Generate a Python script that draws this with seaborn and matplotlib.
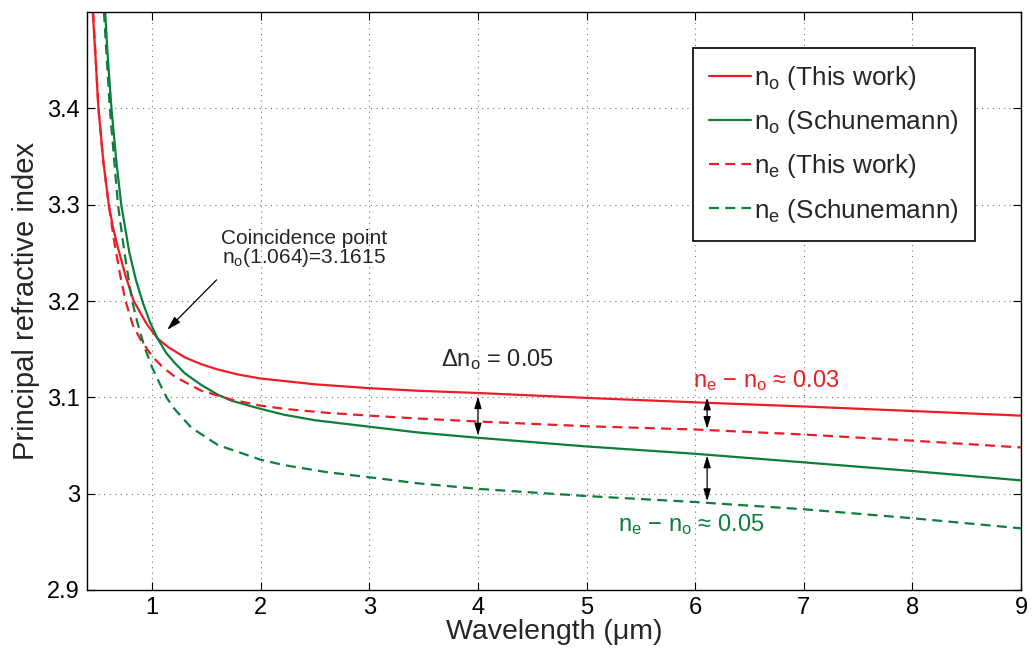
import numpy as np
import pandas as pd
import matplotlib
matplotlib.use('Agg')
import matplotlib.pyplot as plt
import seaborn as sns

# values (wavelength in um, refractive index)
wl_no_this = [0.453, 0.48, 0.505, 0.55, 0.60, 0.64, 0.683, 0.75, 0.83, 0.95, 1.05, 1.15, 1.3,
              1.45, 1.6, 1.8, 2.0, 2.5, 3.0, 3.45, 4.0, 5.0, 6.0, 7.0, 8.0, 9.0]
n_no_this = [3.50, 3.45, 3.40, 3.345, 3.30, 3.276, 3.256, 3.228, 3.20, 3.176, 3.161, 3.152, 3.1415,
             3.1345, 3.129, 3.1235, 3.1195, 3.1135, 3.1095, 3.1068, 3.1045, 3.0994, 3.0948, 3.0905,
             3.0858, 3.081]

wl_no_sch = [0.567, 0.59, 0.625, 0.67, 0.715, 0.79, 0.85, 0.915, 0.98, 1.05, 1.13, 1.205, 1.3,
             1.45, 1.6, 1.73, 2.0, 2.22, 2.5, 3.0, 3.45, 4.0, 5.0, 6.0, 7.0, 8.0, 9.0]
n_no_sch = [3.50, 3.455, 3.40, 3.345, 3.30, 3.25, 3.222, 3.198, 3.178, 3.161, 3.146, 3.136, 3.125,
            3.113, 3.103, 3.0965, 3.088, 3.0818, 3.0762, 3.0695, 3.0635, 3.058, 3.049, 3.0414,
            3.0325, 3.0235, 3.0138]

wl_ne_this = [0.456, 0.48, 0.505, 0.55, 0.60, 0.65, 0.70, 0.755, 0.82, 0.89, 1.0, 1.1, 1.205,
              1.45, 1.73, 2.0, 2.22, 2.6, 3.0, 3.45, 4.0, 5.0, 6.0, 7.0, 8.0, 9.0]
n_ne_this = [3.50, 3.452, 3.40, 3.345, 3.30, 3.262, 3.230, 3.200, 3.1755, 3.1605, 3.1425, 3.131,
             3.1217, 3.107, 3.0976, 3.0914, 3.088, 3.084, 3.081, 3.078, 3.0749, 3.070, 3.0666,
             3.0614, 3.055, 3.048]

wl_ne_sch = [0.556, 0.58, 0.61, 0.685, 0.745, 0.815, 0.87, 0.93, 1.0, 1.083, 1.14, 1.205, 1.36,
             1.605, 2.0, 2.22, 2.6, 3.0, 3.45, 4.0, 5.0, 6.0, 7.0, 8.0, 9.0]
n_ne_sch = [3.50, 3.455, 3.40, 3.30, 3.25, 3.20, 3.175, 3.152, 3.131, 3.111, 3.0985, 3.088, 3.0685,
            3.0505, 3.0352, 3.0295, 3.0225, 3.017, 3.0107, 3.005, 2.9975, 2.9913, 2.9838, 2.9745,
            2.964]

labels = [r'$\mathregular{n_o}$ (This work)', r'$\mathregular{n_o}$ (Schunemann)',
          r'$\mathregular{n_e}$ (This work)', r'$\mathregular{n_e}$ (Schunemann)']

red = '#ee1c25'
green = '#0b7f3b'

frames = []
for lab, wl, n in zip(labels, [wl_no_this, wl_no_sch, wl_ne_this, wl_ne_sch],
                      [n_no_this, n_no_sch, n_ne_this, n_ne_sch]):
    frames.append(pd.DataFrame({'wavelength': wl, 'n': n, 'curve': lab}))
df = pd.concat(frames, ignore_index=True)

sns.set_theme(style='ticks')
plt.rcParams['font.family'] = ['Liberation Sans', 'DejaVu Sans']
plt.rcParams['mathtext.fontset'] = 'custom'
plt.rcParams['mathtext.rm'] = 'Liberation Sans'
plt.rcParams['mathtext.it'] = 'Liberation Sans'
plt.rcParams['mathtext.sf'] = 'Liberation Sans'

fig = plt.figure(figsize=(10.36, 6.57), dpi=100)
ax = fig.add_axes([0.084, 0.102, 0.9015, 0.8797])

palette = {labels[0]: red, labels[1]: green, labels[2]: red, labels[3]: green}
dashes = {labels[0]: '', labels[1]: '', labels[2]: (4.5, 2.8), labels[3]: (4.5, 2.8)}
sns.lineplot(data=df, x='wavelength', y='n', hue='curve', style='curve',
             palette=palette, dashes=dashes, hue_order=labels, style_order=labels,
             linewidth=1.6, ax=ax, estimator=None, sort=False)

ax.set_xlim(0.4, 9)
ax.set_ylim(2.9, 3.5)
ax.set_xticks(range(1, 10))
ax.set_yticks([2.9, 3.0, 3.1, 3.2, 3.3, 3.4])
ax.set_yticklabels(['2.9', '3', '3.1', '3.2', '3.3', '3.4'])
ax.grid(True, linestyle=(0, (1, 4)), color='#777777', linewidth=0.8)
ax.tick_params(direction='in', top=True, right=True, length=6, width=0.8,
               labelsize=17, colors='black', pad=5)
for s in ax.spines.values():
    s.set_color('black')
    s.set_linewidth(1.0)
ax.set_xlabel('Wavelength (\u03bcm)', fontsize=20.5, labelpad=0)
ax.set_ylabel('Principal refractive index', fontsize=21, labelpad=5)

leg = ax.legend(loc='upper right', bbox_to_anchor=(0.951, 0.938), borderaxespad=0,
                fontsize=18.8, handlelength=1.6, handletextpad=0.15, labelspacing=0.62,
                borderpad=0.62, fancybox=False, framealpha=1, edgecolor='black')
leg.get_frame().set_linewidth(1.2)

# annotations
ax.text(2.394, 3.2591, 'Coincidence point', ha='center', va='baseline', fontsize=15)
ax.text(2.394, 3.2391, r'$\mathregular{n_o}$(1.064)=3.1615', ha='center', va='baseline', fontsize=15)
ax.annotate('', xy=(1.12, 3.168), xytext=(1.611, 3.224),
            arrowprops=dict(arrowstyle='-|>,head_length=0.7,head_width=0.2', color='black', lw=0.9))

ax.text(3.664, 3.1328, r'$\mathregular{\Delta n_o}$ = 0.05', ha='left', va='baseline', fontsize=17)
ax.text(5.977, 3.1108, r'$\mathregular{n_e}$' + ' \u2212 ' + r'$\mathregular{n_o}$' + ' \u2248 0.03',
        ha='left', va='baseline', fontsize=17, color=red)
ax.text(5.29, 2.9613, r'$\mathregular{n_e}$' + ' \u2212 ' + r'$\mathregular{n_o}$' + ' \u2248 0.05',
        ha='left', va='baseline', fontsize=17, color=green)

arr = dict(arrowstyle='<|-|>,head_length=0.6,head_width=0.18', color='black', lw=0.9,
           shrinkA=0, shrinkB=0)
ax.annotate('', xy=(4.0, 3.101), xytext=(4.0, 3.0604), arrowprops=arr)
ax.annotate('', xy=(6.11, 3.0997), xytext=(6.11, 3.0673), arrowprops=arr)
ax.annotate('', xy=(6.11, 3.0396), xytext=(6.11, 2.9923), arrowprops=arr)

fig.savefig('out.png', dpi=100)
